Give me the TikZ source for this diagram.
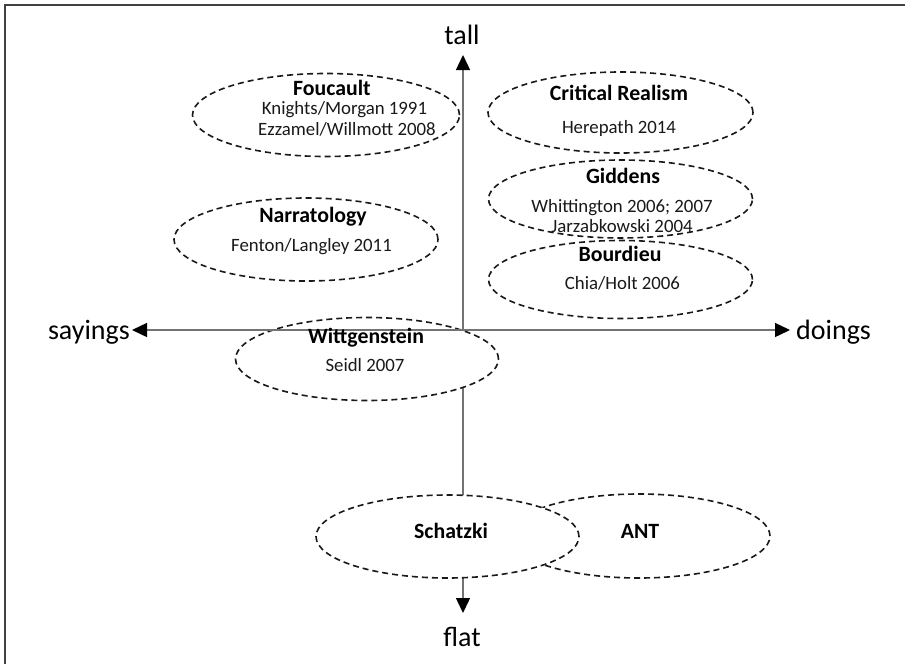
\documentclass[tikz,border=0pt]{standalone}
\usepackage{fontspec}
\setmainfont{Carlito}
\usetikzlibrary{shapes.geometric,arrows.meta}
\begin{document}
\begin{tikzpicture}[x=1pt,y=-1pt,
  ell/.style={ellipse,draw=black!90,line width=1.6pt,dash pattern=on 6pt off 4pt,inner sep=0pt},
  ttl/.style={font=\fontsize{21.8}{24}\selectfont\bfseries,anchor=base,inner sep=0pt,text=black},
  sub/.style={font=\fontsize{18.8}{22}\selectfont,anchor=base,inner sep=0pt,text=black!90},
  axl/.style={font=\fontsize{28}{32}\selectfont,inner sep=0pt,text=black},
  axisline/.style={draw=black!55,line width=1.4pt,>={Triangle[length=15pt,width=14pt,color=black]}}]
\useasboundingbox (0,0) rectangle (905,664);
\fill[white] (0,0) rectangle (905,664);
% frame
\draw[line width=2pt,black!75] (5,664) -- (5,5) -- (905,5);

% axis end points
\coordinate (ttip) at (463,55);
\coordinate (btip) at (463,613);
\coordinate (ltip) at (132,330);
\coordinate (rtip) at (790,330);

% vertical axis
\draw[axisline,<->] (ttip) -- (btip);

% bottom ellipses (filled, hide the axis)
\node[ell,fill=white,minimum width=262pt,minimum height=84pt] (ant) at (639,536) {};
\node[ell,fill=white,minimum width=263pt,minimum height=83pt] (sch) at (447.5,536.5) {};
\node[ell,fill=white,minimum width=263pt,minimum height=83pt] (wit) at (367,359) {};

% horizontal axis
\draw[axisline,<->] (ltip) -- (rtip);

% other ellipses
\node[ell,minimum width=267pt,minimum height=83pt] (fou) at (326,115) {};
\node[ell,minimum width=265pt,minimum height=81pt] (cr) at (620.5,112.5) {};
\node[ell,minimum width=264pt,minimum height=78pt] (gid) at (620.5,199) {};
\node[ell,minimum width=264pt,minimum height=78pt] (bou) at (620.5,279.5) {};
\node[ell,minimum width=264pt,minimum height=83pt] (nar) at (306,239.5) {};

% axis labels
\node[axl,anchor=base] (tall) at (462,44) {tall};
\node[axl,anchor=base] (flat) at (462,646) {flat};
\node[axl,anchor=base east] (say) at (130,339) {sayings};
\node[axl,anchor=base west] (doi) at (796,339) {doings};

% texts
\node[ttl] (foutitle) at (332,95) {Foucault};
\node[sub] (fou1) at (344.5,114.5) {Knights/Morgan 1991};
\node[sub] (fou2) at (347,135) {Ezzamel/Willmott 2008};

\node[ttl] (crtitle) at (619,100) {Critical Realism};
\node[sub] (cr1) at (619,133) {Herepath 2014};

\node[ttl] (gidtitle) at (623,183) {Giddens};
\node[sub] (gid1) at (622,212) {Whittington 2006; 2007};
\node[sub] (gid2) at (622,232) {Jarzabkowski 2004};

\node[ttl] (boutitle) at (620,261) {Bourdieu};
\node[sub] (bou1) at (622.5,289) {Chia/Holt 2006};

\node[ttl] (nartitle) at (313,222) {Narratology};
\node[sub] (nar1) at (311.5,251.5) {Fenton/Langley 2011};

\node[ttl] (wittitle) at (366,343) {Wittgenstein};
\node[sub] (wit1) at (365,371.5) {Seidl 2007};

\node[ttl] (schtitle) at (451,538.5) {Schatzki};
\node[ttl] (anttitle) at (640,538.5) {ANT};
\end{tikzpicture}
\end{document}
